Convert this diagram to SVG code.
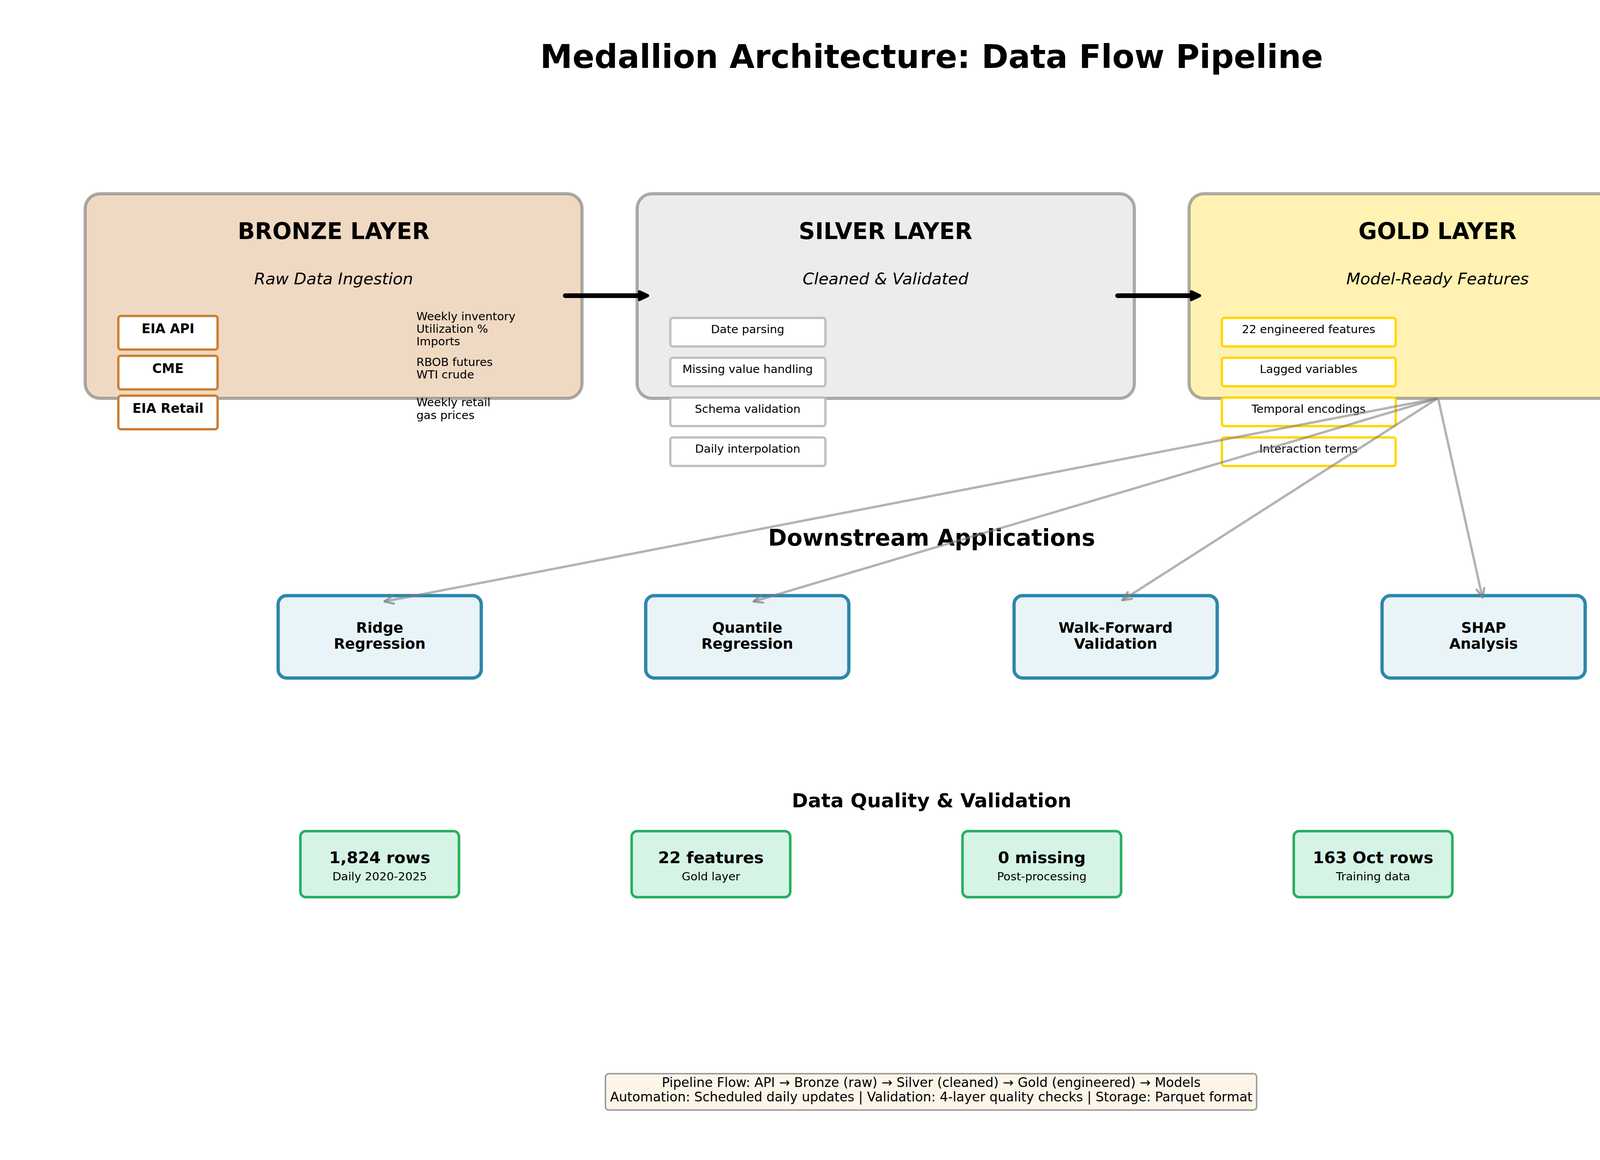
<svg xmlns="http://www.w3.org/2000/svg" width="4770" height="2970" viewBox="0 0 4770 2970">
<defs>
<style>
text{font-family:"DejaVu Sans","Liberation Sans",sans-serif;fill:#000}
.c{text-anchor:middle}
.t{font-size:83px;font-weight:bold}
.lt{font-size:58px;font-weight:bold}
.ls{font-size:41.7px;font-style:italic}
.layer{stroke:#808080;stroke-opacity:0.65;stroke-width:8}
.bi{fill:#fff;stroke:#cd7f32;stroke-width:6}
.si{fill:#fff;stroke:#c0c0c0;stroke-width:6}
.gi{fill:#fff;stroke:#ffd700;stroke-width:6}
.bl{font-size:33.3px;font-weight:bold}
.sm{font-size:29.2px}
.ds{fill:#e8f4f8;stroke:#2e86ab;stroke-width:8.5}
.dl{font-size:37.5px;font-weight:bold}
.sec{font-size:58px;font-weight:bold}
.sec2{font-size:50px;font-weight:bold}
.q{fill:#d5f4e6;stroke:#27ae60;stroke-width:6.5}
.qt{font-size:41.7px;font-weight:bold}
.ft{font-size:33.3px}
.thick{stroke:#000;stroke-width:12;stroke-linecap:round;fill:none}
.thin{stroke:#808080;stroke-opacity:0.6;stroke-width:6;fill:none}
</style>
<marker id="hb" markerUnits="userSpaceOnUse" orient="auto" markerWidth="80" markerHeight="80" refX="0" refY="0" viewBox="-40 -40 80 80" overflow="visible"><path d="M-3,-10 L18,0 L-3,10 Z" fill="#000" stroke="#000" stroke-width="8" stroke-linejoin="round"/></marker>
<marker id="hg" markerUnits="userSpaceOnUse" orient="auto" markerWidth="60" markerHeight="60" refX="0" refY="0" viewBox="-30 -30 60 60" overflow="visible"><path d="M-23,-10 L0,0 L-23,10" fill="none" stroke="#808080" stroke-opacity="0.7" stroke-width="5.5" stroke-linecap="round" stroke-linejoin="round"/></marker>
</defs>
<rect x="0" y="0" width="4770" height="2970" fill="#fff"/>
<text class="t c" x="2385" y="174">Medallion Architecture: Data Flow Pipeline</text>

<g id="bronze">
<rect class="layer" x="218" y="496" width="1272" height="524" rx="38" fill="#f0d9c2"/>
<text class="lt c" x="854" y="612">BRONZE LAYER</text>
<text class="ls c" x="854" y="728">Raw Data Ingestion</text>
</g>
<g id="bronze-eia-api">
<rect class="bi" x="303" y="809" width="254" height="86" rx="6"/>
<text class="bl c" x="430" y="853">EIA API</text>
<text class="sm" x="1066" y="820">Weekly inventory</text>
<text class="sm" x="1066" y="852">Utilization %</text>
<text class="sm" x="1066" y="884">Imports</text>
</g>
<g id="bronze-cme">
<rect class="bi" x="303" y="911" width="254" height="86" rx="6"/>
<text class="bl c" x="430" y="955">CME</text>
<text class="sm" x="1066" y="937">RBOB futures</text>
<text class="sm" x="1066" y="969">WTI crude</text>
</g>
<g id="bronze-eia-retail">
<rect class="bi" x="303" y="1013" width="254" height="86" rx="6"/>
<text class="bl c" x="430" y="1057">EIA Retail</text>
<text class="sm" x="1066" y="1040">Weekly retail</text>
<text class="sm" x="1066" y="1073">gas prices</text>
</g>

<g id="silver">
<rect class="layer" x="1631" y="496" width="1273" height="524" rx="38" fill="#ececec"/>
<text class="lt c" x="2267" y="612">SILVER LAYER</text>
<text class="ls c" x="2267" y="728">Cleaned &amp; Validated</text>
</g>
<g id="silver-items">
<rect class="si" x="1716" y="814" width="397" height="73" rx="6"/>
<text class="sm c" x="1914" y="853">Date parsing</text>
<rect class="si" x="1716" y="916" width="397" height="73" rx="6"/>
<text class="sm c" x="1914" y="955">Missing value handling</text>
<rect class="si" x="1716" y="1018" width="397" height="73" rx="6"/>
<text class="sm c" x="1914" y="1057">Schema validation</text>
<rect class="si" x="1716" y="1120" width="397" height="73" rx="6"/>
<text class="sm c" x="1914" y="1159">Daily interpolation</text>
</g>

<g id="gold">
<rect class="layer" x="3044" y="496" width="1272" height="524" rx="38" fill="#fff2b3"/>
<text class="lt c" x="3680" y="612">GOLD LAYER</text>
<text class="ls c" x="3680" y="728">Model-Ready Features</text>
</g>
<g id="gold-items">
<rect class="gi" x="3128" y="814" width="445" height="73" rx="6"/>
<text class="sm c" x="3350" y="853">22 engineered features</text>
<rect class="gi" x="3128" y="916" width="445" height="73" rx="6"/>
<text class="sm c" x="3350" y="955">Lagged variables</text>
<rect class="gi" x="3128" y="1018" width="445" height="73" rx="6"/>
<text class="sm c" x="3350" y="1057">Temporal encodings</text>
<rect class="gi" x="3128" y="1120" width="445" height="73" rx="6"/>
<text class="sm c" x="3350" y="1159">Interaction terms</text>
</g>

<text class="sec c" x="2385" y="1397">Downstream Applications</text>
<g id="ridge">
<rect class="ds" x="712" y="1525" width="520" height="211" rx="22"/>
<text class="dl c" x="972" y="1620">Ridge</text>
<text class="dl c" x="972" y="1661">Regression</text>
</g>
<g id="quantile">
<rect class="ds" x="1653" y="1525" width="520" height="211" rx="22"/>
<text class="dl c" x="1913" y="1620">Quantile</text>
<text class="dl c" x="1913" y="1661">Regression</text>
</g>
<g id="walkforward">
<rect class="ds" x="2596" y="1525" width="520" height="211" rx="22"/>
<text class="dl c" x="2856" y="1620">Walk-Forward</text>
<text class="dl c" x="2856" y="1661">Validation</text>
</g>
<g id="shap">
<rect class="ds" x="3538" y="1525" width="520" height="211" rx="22"/>
<text class="dl c" x="3798" y="1620">SHAP</text>
<text class="dl c" x="3798" y="1661">Analysis</text>
</g>

<text class="sec2 c" x="2385" y="2067">Data Quality &amp; Validation</text>
<g id="q-rows">
<rect class="q" x="769" y="2128" width="406" height="169" rx="14"/>
<text class="qt c" x="972" y="2210">1,824 rows</text>
<text class="sm c" x="972" y="2254">Daily 2020-2025</text>
</g>
<g id="q-features">
<rect class="q" x="1617" y="2128" width="406" height="169" rx="14"/>
<text class="qt c" x="1820" y="2210">22 features</text>
<text class="sm c" x="1820" y="2254">Gold layer</text>
</g>
<g id="q-missing">
<rect class="q" x="2464" y="2128" width="406" height="169" rx="14"/>
<text class="qt c" x="2667" y="2210">0 missing</text>
<text class="sm c" x="2667" y="2254">Post-processing</text>
</g>
<g id="q-oct">
<rect class="q" x="3312" y="2128" width="406" height="169" rx="14"/>
<text class="qt c" x="3515" y="2210">163 Oct rows</text>
<text class="sm c" x="3515" y="2254">Training data</text>
</g>

<g id="footer">
<rect x="1550" y="2749" width="1667" height="93" rx="8" fill="#fcf5e8" stroke="#a0a0a0" stroke-width="4"/>
<text class="ft c" x="2384" y="2783">Pipeline Flow: API → Bronze (raw) → Silver (cleaned) → Gold (engineered) → Models</text>
<text class="ft c" x="2384" y="2820">Automation: Scheduled daily updates | Validation: 4-layer quality checks | Storage: Parquet format</text>
</g>

<g id="connectors">
<path class="thick" d="M1447,757 H1640" marker-end="url(#hb)"/>
<path class="thick" d="M2861,757 H3053" marker-end="url(#hb)"/>
<path class="thin" d="M3680,1020 L984,1540" marker-end="url(#hg)"/>
<path class="thin" d="M3680,1020 L1929,1540" marker-end="url(#hg)"/>
<path class="thin" d="M3680,1020 L2873,1537" marker-end="url(#hg)"/>
<path class="thin" d="M3682,1022 L3795,1530" marker-end="url(#hg)"/>
</g>
</svg>
